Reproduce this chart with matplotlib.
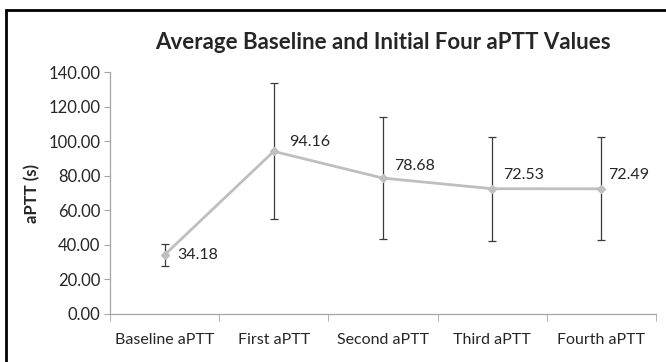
import matplotlib.pyplot as plt
from matplotlib.patches import Rectangle

categories = ['Baseline aPTT', 'First aPTT', 'Second aPTT', 'Third aPTT', 'Fourth aPTT']
means = [34.18, 94.16, 78.68, 72.53, 72.49]
sd = [6.2, 39.3, 35.5, 30.2, 29.8]
label_offsets = [(9, -5), (11, 2), (8, 4), (8, 5), (5, 5)]

plt.rcParams['font.family'] = ['Lato', 'DejaVu Sans']

fig = plt.figure(figsize=(6.66, 3.62), dpi=100)
ax = fig.add_axes([0.165, 0.1326, 0.82, 0.668])

x = list(range(len(categories)))
ax.errorbar(x, means, yerr=sd, fmt='none', ecolor='#3a3a3a', elinewidth=0.9,
            capsize=3, capthick=0.9, zorder=2)
ax.plot(x, means, color='#bfbfbf', lw=2, marker='D', markersize=4,
        markerfacecolor='#bfbfbf', markeredgecolor='#bfbfbf', zorder=3)

for i, v in enumerate(means):
    ax.annotate(f'{v:.2f}', (i, v), xytext=label_offsets[i], textcoords='offset points',
                fontsize=11.5, color='#262626', va='bottom', ha='left')

ax.set_xlim(-0.5, len(categories) - 0.5)
ax.set_ylim(0, 140)
ax.set_yticks(range(0, 141, 20))
ax.set_yticklabels([f'{t:.2f}' for t in range(0, 141, 20)], fontsize=12, color='#262626')
ax.set_xticks(x)
ax.set_xticklabels(categories, fontsize=11.5, color='#262626')
ax.set_xticks([i - 0.5 for i in range(len(categories) + 1)], minor=True)
ax.tick_params(axis='x', which='major', length=0, pad=14)
ax.tick_params(axis='x', which='minor', length=5, color='#a6a6a6')
ax.tick_params(axis='y', length=4, color='#a6a6a6', pad=3)

for s in ['top', 'right']:
    ax.spines[s].set_visible(False)
for s in ['left', 'bottom']:
    ax.spines[s].set_color('#a6a6a6')
    ax.spines[s].set_linewidth(0.9)

ax.set_ylabel('aPTT (s)', fontsize=12, fontweight='bold', color='#262626', labelpad=6)
fig.text(0.575, 0.883, 'Average Baseline and Initial Four aPTT Values', ha='center', va='center',
         fontsize=16, fontweight='bold', color='#262626')

fig.patches.append(Rectangle((6 / 666, -0.1), 1.2, 1 - 10 / 362 + 0.1, transform=fig.transFigure,
                             fill=False, edgecolor='black', lw=2, clip_on=False))

fig.savefig('out.png', dpi=100)
